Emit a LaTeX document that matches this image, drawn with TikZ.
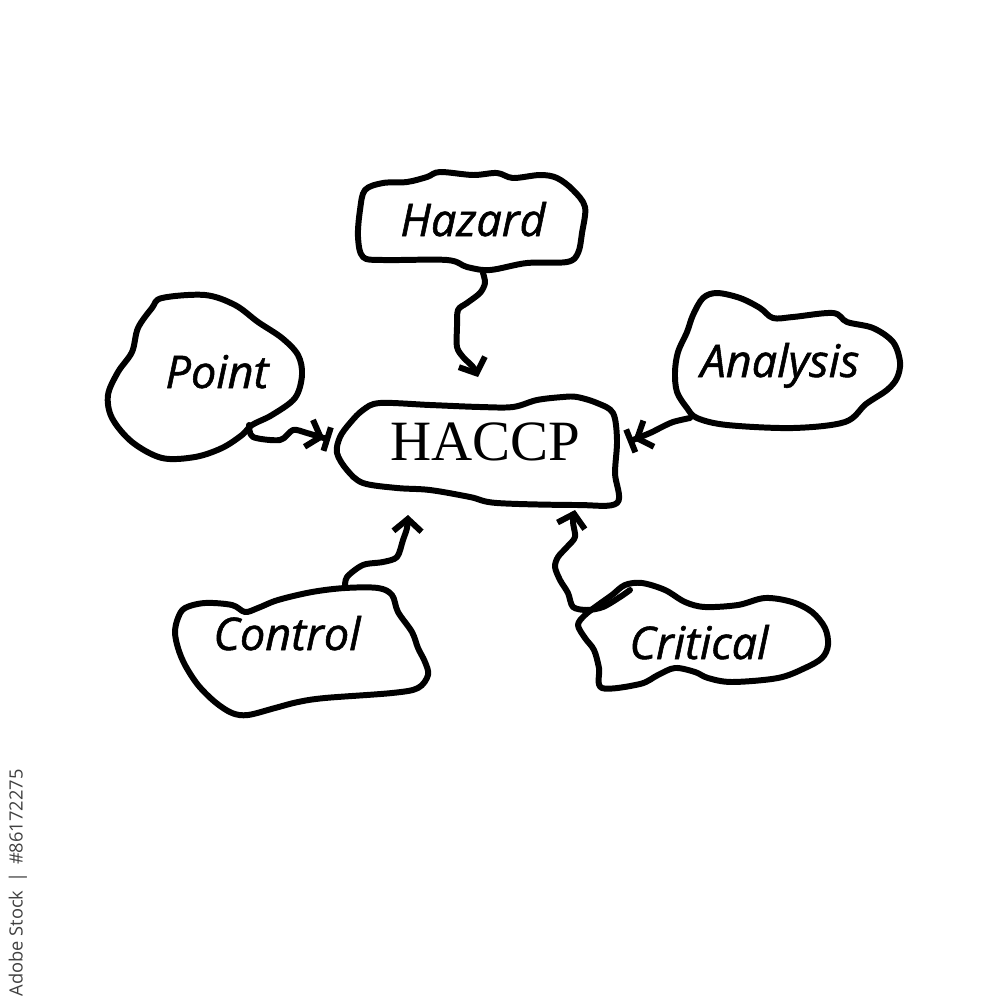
\documentclass[tikz,border=0pt]{standalone}
\usepackage{fontspec}
\setmainfont{Liberation Serif}
\newfontfamily\handfont[FakeBold=1.2]{Open Sans}
\newfontfamily\tagfont{Open Sans}
\usetikzlibrary{arrows.meta,calc}

\tikzset{
  blob/.style={draw=black, line width=1.7pt, line join=round, line cap=round},
  link/.style={draw=black, line width=1.7pt, line join=round, line cap=round},
  lbl/.style={anchor=base, inner sep=0pt, font=\handfont\itshape\fontsize{12.8}{14}\selectfont},
  hub/.style={anchor=base, inner sep=0pt, font=\fontsize{16.2}{18}\selectfont},
  stocktag/.style={rotate=90, inner sep=0pt, text=black!75, font=\tagfont\fontsize{5.2}{6}\selectfont},
  barb/.style={-{Straight Barb[length=3.5pt,width=8pt]}},
  barbbar/.style={-{Straight Barb[length=3.5pt,width=8pt,sep=0pt]Bar[width=7pt]}}
}

\begin{document}
\begin{tikzpicture}[x=0.01cm, y=-0.01cm]
  \useasboundingbox (0,0) rectangle (1000,1000);

  % labels
  \node[hub] (haccp) at (485,460) {HACCP};
  \node[lbl] (hazard) at (473,236) {Hazard};
  \node[lbl] (point) at (217,388) {Point};
  \node[lbl] (analysis) at (780,377) {Analysis};
  \node[lbl] (control) at (287,650) {Control};
  \node[lbl] (critical) at (699,659) {Critical};
  \node[stocktag] (stock) at (18,883) {Adobe Stock \,|\, \#86172275};

  % the hand drawn outlines
  \draw[blob] plot[smooth cycle, tension=.55] coordinates {
    (365,190) (383,183) (407,182) (427,177) (440,172) (473,175) (497,173)
    (513,178) (540,175) (557,178) (573,190) (585,207) (582,233) (578,253)
    (567,262) (527,263) (490,270) (467,267) (447,260) (383,260) (363,257)
    (358,237) (360,210)};
  \draw[blob] plot[smooth cycle, tension=.55] coordinates {
    (162,298) (205,295) (235,305) (258,322) (282,338) (298,355) (302,375)
    (295,398) (272,415) (252,425) (242,435) (222,448) (195,457) (162,458)
    (132,442) (112,418) (108,395) (118,372) (132,352) (138,328) (152,308)};
  \draw[blob] plot[smooth cycle, tension=.55] coordinates {
    (703,298) (717,293) (740,298) (760,308) (773,318) (793,317) (833,313)
    (847,322) (873,328) (893,342) (900,362) (897,378) (887,390) (866,404)
    (845,422) (793,428) (727,425) (697,418) (687,408) (677,392)
    (675,372) (678,352) (687,332) (693,315)};
  \draw[blob] plot[smooth cycle, tension=.55] coordinates {
    (340,437) (350,423) (363,410) (380,403) (430,405) (480,407) (513,407)
    (537,400) (563,397) (577,397) (597,403) (613,413) (617,440) (615,473)
    (617,503) (577,505) (497,503) (470,497) (430,490) (397,488) (363,483)
    (347,470) (337,453)};
  \draw[blob] plot[smooth cycle, tension=.55] coordinates {
    (185,608) (205,603) (232,605) (245,612) (258,608) (278,600) (312,592)
    (345,588) (378,588) (392,595) (398,612) (412,632) (418,648) (425,662)
    (428,675) (418,688) (392,693) (325,698) (298,702) (275,708) (248,715)
    (232,713) (215,702) (198,685) (185,665) (178,648) (175,632) (178,618)};
  \draw[blob] plot[smooth cycle, tension=.55] coordinates {
    (625,585) (642,583) (665,590) (685,602) (705,607) (738,605) (765,598)
    (792,602) (812,612) (825,628) (828,645) (822,658) (805,668) (778,678)
    (732,682) (708,678) (695,672) (675,668) (658,675) (640,684) (602,688)
    (599,668) (594,650) (585,638) (578,625) (585,615) (598,605) (612,595)};

  % where the links leave and meet
  \coordinate (hazard-out) at ($(hazard.base)+(10,37)$);
  \coordinate (point-out) at ($(point.base)+(32,37)$);
  \coordinate (analysis-out) at ($(analysis.base)+(-90,41)$);
  \coordinate (control-out) at ($(control.base)+(58,-62)$);
  \coordinate (critical-out) at ($(critical.base)+(-69,-69)$);
  \coordinate (haccp-n) at ($(haccp.base)+(-7,-83)$);
  \coordinate (haccp-w) at ($(haccp.base)+(-155,-20)$);
  \coordinate (haccp-e) at ($(haccp.base)+(143,-18)$);
  \coordinate (haccp-sw) at ($(haccp.base)+(-77,55)$);
  \coordinate (haccp-se) at ($(haccp.base)+(90,50)$);

  % links
  \draw[link, barb] plot[smooth, tension=.5] coordinates {
    (hazard-out) (485,283) (480,293) (467,303) (458,310) (457,327)
    (457,347) (463,357) (473,367) (haccp-n)};
  \draw[link, barbbar] plot[smooth, tension=.5] coordinates {
    (point-out) (253,437) (280,440) (293,430) (307,433) (haccp-w)};
  \draw[link, barbbar] plot[smooth, tension=.5] coordinates {
    (analysis-out) (673,422) (660,428) (650,433) (haccp-e)};
  \draw[link, barb] plot[smooth, tension=.5] coordinates {
    (control-out) (347,577) (363,565) (383,562) (397,557) (403,540)
    (407,528) (haccp-sw)};
  \draw[link, barb] plot[smooth, tension=.5] coordinates {
    (critical-out) (620,597) (603,607) (587,610) (573,607) (568,593)
    (560,580) (555,567) (558,557) (567,547) (575,537) (573,522) (haccp-se)};
\end{tikzpicture}
\end{document}
